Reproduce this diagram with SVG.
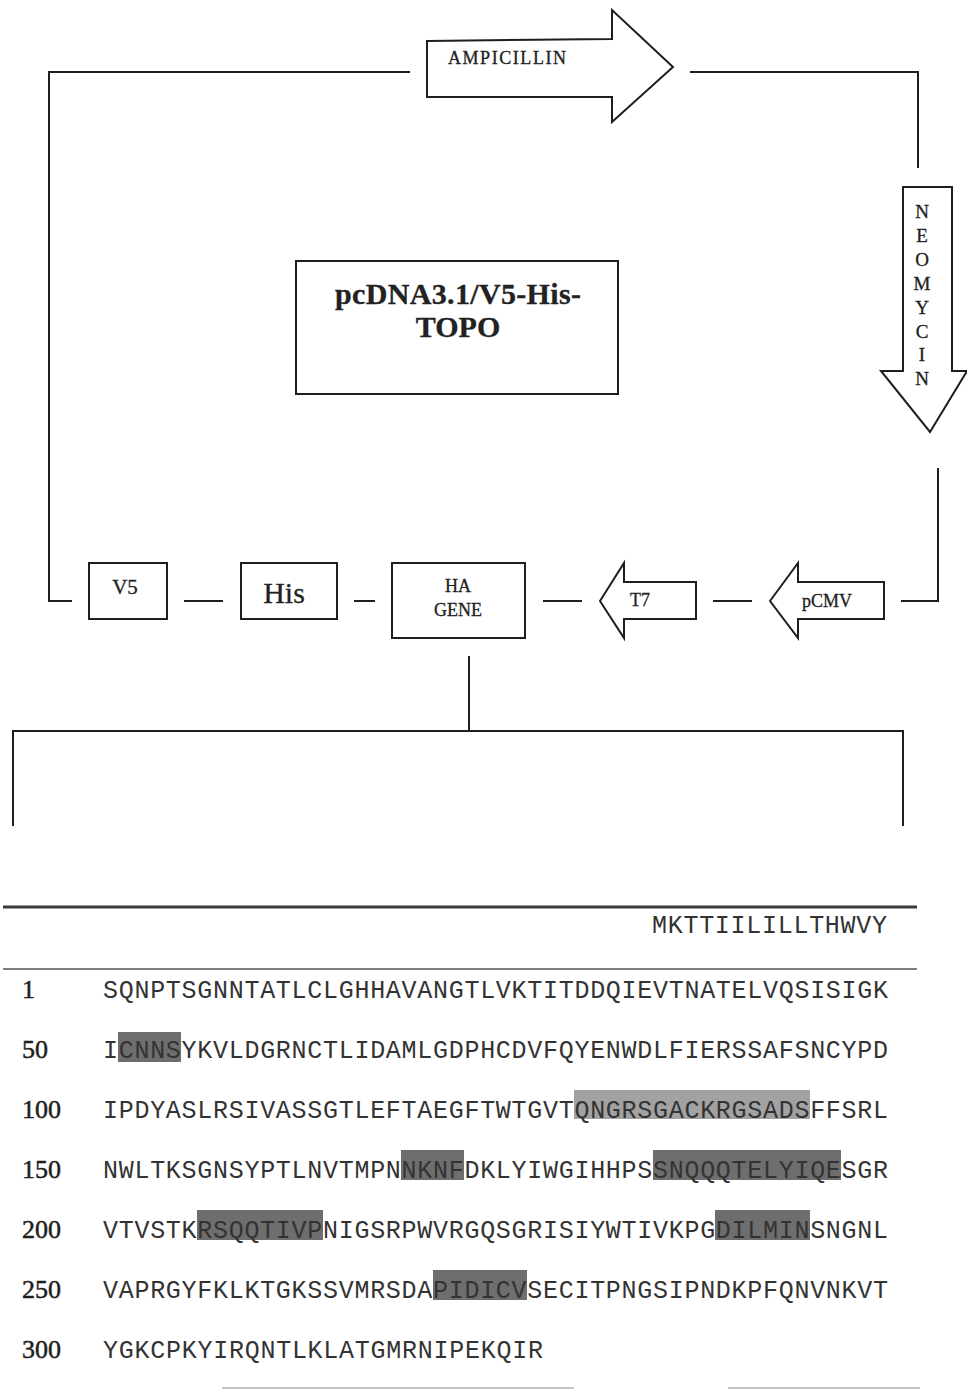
<svg xmlns="http://www.w3.org/2000/svg" width="967" height="1390" viewBox="0 0 967 1390">
<style>
.ln{fill:none;stroke:#1e1e1e;stroke-width:2}
.shp{fill:#fff;stroke:#1e1e1e;stroke-width:2;stroke-linejoin:miter}
.lbl{font-family:"Liberation Serif",serif;fill:#222;stroke:#222;stroke-width:0.3}
.seq{font-family:"Liberation Mono",monospace;font-size:25px;fill:#333}
.num{font-family:"Liberation Serif",serif;font-size:26px;fill:#1e1e1e;stroke:#1e1e1e;stroke-width:0.5}
.hd{fill:#6e6e6e}
.hl{fill:#a2a2a2}
</style>
<rect width="967" height="1390" fill="#fff"/>
<g id="connectors">
<polyline class="ln" points="410,72 49,72 49,601 72,601"/>
<polyline class="ln" points="690,72 918,72 918,168"/>
<polyline class="ln" points="938,468 938,601 901,601"/>
<line class="ln" x1="184" y1="601" x2="223" y2="601"/>
<line class="ln" x1="354" y1="601" x2="375" y2="601"/>
<line class="ln" x1="543" y1="601" x2="582" y2="601"/>
<line class="ln" x1="713" y1="601" x2="752" y2="601"/>
<polyline class="ln" points="469,656 469,731"/>
<polyline class="ln" points="13,826 13,731 903,731 903,826"/>
</g>
<g id="ampicillin">
<polygon class="shp" points="427,41 612,39 612,10 673,67 612,122 612,97 427,97"/>
<text class="lbl" x="448" y="64" font-size="18" textLength="118">AMPICILLIN</text>
</g>
<g id="neomycin">
<polygon class="shp" points="903,187 952,187 952,371 967,371 930,432 881,371 903,371"/>
<g class="lbl" font-size="19" text-anchor="middle">
<text x="922" y="218">N</text>
<text x="922" y="242">E</text>
<text x="922" y="266">O</text>
<text x="922" y="290">M</text>
<text x="922" y="314">Y</text>
<text x="922" y="338">C</text>
<text x="922" y="361">I</text>
<text x="922" y="385">N</text>
</g>
</g>
<g id="pcdna">
<rect class="shp" x="296" y="261" width="322" height="133"/>
<text class="lbl" x="458" y="304" font-size="30" font-weight="bold" text-anchor="middle" textLength="246">pcDNA3.1/V5-His-</text>
<text class="lbl" x="458" y="337" font-size="30" font-weight="bold" text-anchor="middle">TOPO</text>
</g>
<g id="v5">
<rect class="shp" x="89" y="563" width="78" height="56"/>
<text class="lbl" x="125" y="594" font-size="21" text-anchor="middle">V5</text>
</g>
<g id="his">
<rect class="shp" x="241" y="563" width="96" height="56"/>
<text class="lbl" x="284" y="603" font-size="30" text-anchor="middle">His</text>
</g>
<g id="ha-gene">
<rect class="shp" x="392" y="563" width="133" height="75"/>
<text class="lbl" x="458" y="592" font-size="18" text-anchor="middle">HA</text>
<text class="lbl" x="458" y="616" font-size="18" text-anchor="middle">GENE</text>
</g>
<g id="t7">
<polygon class="shp" points="600,601 624,563 624,582 696,582 696,619 624,619 624,638"/>
<text class="lbl" x="640" y="606" font-size="18" text-anchor="middle">T7</text>
</g>
<g id="pcmv">
<polygon class="shp" points="770,601 798,563 798,582 884,582 884,619 798,619 798,638"/>
<text class="lbl" x="827" y="607" font-size="18" text-anchor="middle">pCMV</text>
</g>
<g id="sequence">
<line x1="3" y1="907" x2="917" y2="907" stroke="#3a3a3a" stroke-width="3"/>
<line x1="3" y1="969" x2="917" y2="969" stroke="#555" stroke-width="1.6"/>
<line x1="222" y1="1388" x2="574" y2="1388" stroke="#c4c4c4" stroke-width="2"/>
<line x1="728" y1="1388" x2="920" y2="1388" stroke="#c4c4c4" stroke-width="2"/>
<rect class="hd" x="118" y="1032" width="63" height="30"/>
<rect class="hl" x="574" y="1090" width="236" height="29"/>
<rect class="hd" x="401" y="1150" width="63" height="30"/>
<rect class="hd" x="653" y="1150" width="188" height="30"/>
<rect class="hd" x="197" y="1210" width="126" height="30"/>
<rect class="hd" x="715" y="1210" width="95" height="30"/>
<rect class="hd" x="433" y="1270" width="94" height="30"/>
<text class="seq" x="652" y="933" textLength="235">MKTTIILILLTHWVY</text>
<text class="num" x="22" y="998">1</text>
<text class="seq" x="103" y="998" textLength="785">SQNPTSGNNTATLCLGHHAVANGTLVKTITDDQIEVTNATELVQSISIGK</text>
<text class="num" x="22" y="1058">50</text>
<text class="seq" x="103" y="1058" textLength="785">ICNNSYKVLDGRNCTLIDAMLGDPHCDVFQYENWDLFIERSSAFSNCYPD</text>
<text class="num" x="22" y="1118">100</text>
<text class="seq" x="103" y="1118" textLength="785">IPDYASLRSIVASSGTLEFTAEGFTWTGVTQNGRSGACKRGSADSFFSRL</text>
<text class="num" x="22" y="1178">150</text>
<text class="seq" x="103" y="1178" textLength="785">NWLTKSGNSYPTLNVTMPNNKNFDKLYIWGIHHPSSNQQQTELYIQESGR</text>
<text class="num" x="22" y="1238">200</text>
<text class="seq" x="103" y="1238" textLength="785">VTVSTKRSQQTIVPNIGSRPWVRGQSGRISIYWTIVKPGDILMINSNGNL</text>
<text class="num" x="22" y="1298">250</text>
<text class="seq" x="103" y="1298" textLength="785">VAPRGYFKLKTGKSSVMRSDAPIDICVSECITPNGSIPNDKPFQNVNKVT</text>
<text class="num" x="22" y="1358">300</text>
<text class="seq" x="103" y="1358" textLength="440">YGKCPKYIRQNTLKLATGMRNIPEKQIR</text>
</g>
</svg>
